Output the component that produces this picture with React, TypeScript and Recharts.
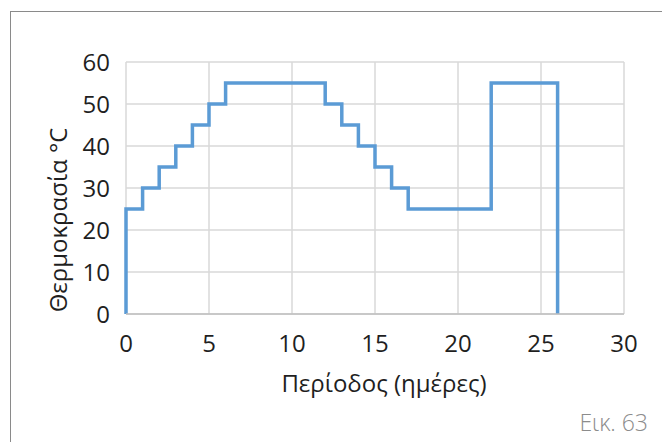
import { LineChart, Line, XAxis, YAxis, CartesianGrid, Label } from "recharts";

// heating programme: day (x) -> temperature setpoint (y), drawn as steps
const days = [0, 0, 1, 2, 3, 4, 5, 6, 12, 13, 14, 15, 16, 17, 22, 26];
const temps = [0, 25, 30, 35, 40, 45, 50, 55, 50, 45, 40, 35, 30, 25, 55, 0];
const xTicks = [0, 5, 10, 15, 20, 25, 30];
const yTicks = [0, 10, 20, 30, 40, 50, 60];

const data = days.map((d, i) => ({ day: d, temp: temps[i] }));

const FONT = "'Open Sans', 'Noto Sans', sans-serif";
const TEXT = "#1f1f1f";
const FS = 24;

export default function App() {
  return (
    <div
      style={{
        position: "absolute",
        left: 0,
        top: 0,
        width: 662,
        height: 442,
        overflow: "hidden",
        background: "#fff",
        fontFamily: FONT,
      }}
    >
      {/* frame, only top and left edge fall inside the picture */}
      <div
        style={{
          position: "absolute",
          left: 10,
          top: 11,
          width: 700,
          height: 500,
          border: "1.5px solid #8a8a8a",
        }}
      />
      <div style={{ position: "absolute", left: 0, top: 0 }}>
        <LineChart
          width={662}
          height={442}
          data={data}
          margin={{ top: 62, right: 38, bottom: 48, left: 0 }}
        >
          <CartesianGrid stroke="#d9d9d9" strokeWidth={1.5} />
          <XAxis
            dataKey="day"
            type="number"
            domain={[0, 30]}
            ticks={xTicks}
            height={80}
            tickLine={false}
            tickSize={0}
            tickMargin={21}
            axisLine={{ stroke: "#bfbfbf", strokeWidth: 1.5 }}
            tick={{ fontSize: FS, fill: TEXT, fontFamily: FONT }}
          >
            <Label
              content={({ viewBox }: any) => {
                const cx = viewBox.x + viewBox.width / 2 + 9;
                const cy = viewBox.y + 78;
                return (
                  <text x={cx} y={cy} textAnchor="middle" fontSize={FS} fill={TEXT} fontFamily={FONT}>
                    Περίοδος (ημέρες)
                  </text>
                );
              }}
            />
          </XAxis>
          <YAxis
            type="number"
            domain={[0, 60]}
            ticks={yTicks}
            width={126}
            tickLine={false}
            tickSize={0}
            tickMargin={16}
            axisLine={false}
            tick={{ fontSize: FS, fill: TEXT, fontFamily: FONT }}
          >
            <Label
              content={({ viewBox }: any) => {
                const cx = viewBox.x + 67;
                const cy = viewBox.y + viewBox.height / 2 + 32;
                return (
                  <text
                    x={cx}
                    y={cy}
                    transform={`rotate(-90 ${cx} ${cy})`}
                    textAnchor="middle"
                    fontSize={FS}
                    fill={TEXT}
                    fontFamily={FONT}
                  >
                    Θερμοκρασία °C
                  </text>
                );
              }}
            />
          </YAxis>
          <Line
            type="stepAfter"
            dataKey="temp"
            stroke="#5b9bd5"
            strokeWidth={3.5}
            dot={false}
            isAnimationActive={false}
          />
        </LineChart>
      </div>
      <div
        style={{
          position: "absolute",
          right: 14,
          top: 406,
          fontSize: 23,
          fontWeight: 300,
          color: "#8c8c8c",
          fontFamily: FONT,
          lineHeight: "32px",
        }}
      >
        Εικ. 63
      </div>
    </div>
  );
}
